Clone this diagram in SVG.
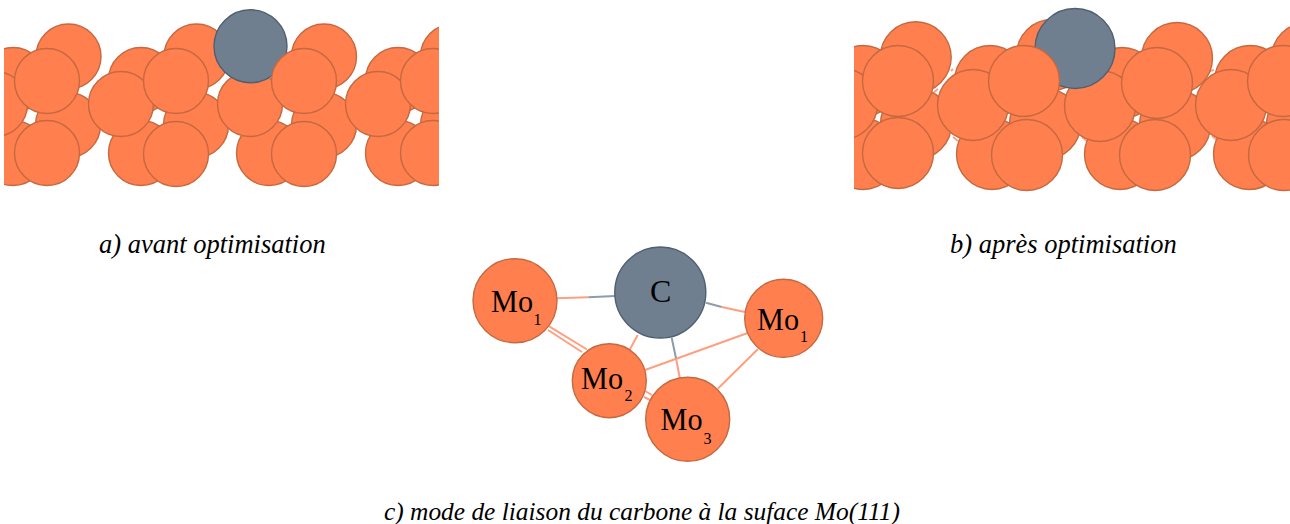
<svg xmlns="http://www.w3.org/2000/svg" width="1290" height="524" viewBox="0 0 1290 524">
<style>
.mo{fill:#ff7f4f;stroke:#c4693f;stroke-width:1.4}
.c{fill:#6f7f8f;stroke:#4f6070;stroke-width:1.4}
.bo{stroke:#ff9f80;stroke-width:2;fill:none}
.bc{stroke:#8d9cab;stroke-width:2;fill:none}
text{font-family:"Liberation Serif","Times New Roman",serif;fill:#000}
.cap{font-size:26.5px;font-style:italic}
.cap2{font-size:25.4px;font-style:italic}
.lab{font-size:32px}
.sub{font-size:16px}
</style>
<defs>
<clipPath id="cl"><rect x="4" y="0" width="435" height="200"/></clipPath>
<clipPath id="cr"><rect x="854" y="0" width="436" height="200"/></clipPath>
<filter id="soft" x="-2%" y="-2%" width="104%" height="104%"><feGaussianBlur stdDeviation="0.4"/></filter>
</defs>
<g id="panel-a" clip-path="url(#cl)">
<g filter="url(#soft)">
<g class="mo">
<circle cx="68.5" cy="56.5" r="32.5"/><circle cx="196.5" cy="56.5" r="32.5"/><circle cx="324" cy="56.5" r="32.5"/><circle cx="453" cy="56.5" r="32.5"/>
<circle cx="13" cy="80" r="32.5"/><circle cx="141" cy="80" r="32.5"/><circle cx="398" cy="80" r="32.5"/>
<circle cx="68" cy="125" r="32.5"/><circle cx="196" cy="125" r="32.5"/><circle cx="324" cy="125" r="32.5"/><circle cx="453" cy="125" r="32.5"/>
<circle cx="13" cy="153" r="32.5"/><circle cx="141" cy="153" r="32.5"/><circle cx="269" cy="153" r="32.5"/><circle cx="398" cy="153" r="32.5"/>
<circle cx="-5" cy="104" r="32.5"/><circle cx="121" cy="104" r="32.5"/><circle cx="250" cy="104" r="32.5"/><circle cx="378" cy="104" r="32.5"/>
</g>
<circle class="c" cx="250.5" cy="46.3" r="36.5"/>
<g class="mo">
<circle cx="47" cy="81" r="32.5"/><circle cx="176" cy="81" r="32.5"/><circle cx="304" cy="81" r="32.5"/><circle cx="433" cy="81" r="32.5"/>
<circle cx="47" cy="153" r="32.5"/><circle cx="176" cy="154" r="32.5"/><circle cx="304" cy="154" r="32.5"/><circle cx="433" cy="153" r="32.5"/>
</g>
</g>
</g>
<g id="panel-b" clip-path="url(#cr)">
<g filter="url(#soft)">
<g class="bo">
<path d="M951 71L953 69M933 93L938 89M953 137L958 141M1082 137L1087 141M1212 136L1217 140M1210 71L1214 70"/>
</g>
<g class="mo">
<circle cx="915.7" cy="57.3" r="35.5"/><circle cx="1052" cy="55" r="35.5"/><circle cx="1177" cy="58" r="35.5"/><circle cx="1307" cy="58" r="35.5"/>
<circle cx="863" cy="81" r="35.5"/><circle cx="990" cy="81" r="35.5"/><circle cx="1122" cy="83" r="35.5"/><circle cx="1250" cy="81" r="35.5"/>
<circle cx="916" cy="124" r="35.5"/><circle cx="1045" cy="124" r="35.5"/><circle cx="1175" cy="125" r="35.5"/><circle cx="1302" cy="125" r="35.5"/>
<circle cx="863" cy="154" r="35.5"/><circle cx="992" cy="154" r="35.5"/><circle cx="1120" cy="154" r="35.5"/><circle cx="1249" cy="154" r="35.5"/>
<circle cx="842" cy="104" r="35.5"/><circle cx="973" cy="105" r="35.5"/><circle cx="1100" cy="106" r="35.5"/><circle cx="1231" cy="105" r="35.5"/>
</g>
<circle class="c" cx="1075" cy="48.5" r="40"/>
<g class="mo">
<circle cx="898" cy="81" r="35.5"/><circle cx="1024" cy="81" r="35.5"/><circle cx="1157" cy="83" r="35.5"/><circle cx="1283" cy="81" r="35.5"/>
<circle cx="898" cy="153" r="35.5"/><circle cx="1027" cy="155" r="35.5"/><circle cx="1155" cy="155" r="35.5"/><circle cx="1284" cy="155" r="35.5"/>
</g>
</g>
</g>
<g id="connectors" filter="url(#soft)">
<path class="bo" d="M556 298.3L588.3 297.3M721.7 307L746 312.3M637.7 335L629 351M676 358.3L680 379M548 330L582 352M548 325.7L587 349.5M645 370L747 333.3M718 388.5L758 349M645 391L652 395M644 397L650 400"/>
<path class="bc" d="M588.3 297.3L615 296M706 302.7L721.7 307M671.7 337.7L676 358.3"/>
</g>
<g id="node-mo1-left"><circle class="mo" cx="515" cy="300.7" r="42" filter="url(#soft)"/><text class="lab" x="491" y="312" textLength="42" lengthAdjust="spacingAndGlyphs">Mo</text><text class="sub" x="533.5" y="325">1</text></g>
<g id="node-c"><circle class="c" cx="660.3" cy="292.5" r="45.5" filter="url(#soft)"/><text class="lab" x="650" y="302">C</text></g>
<g id="node-mo1-right"><circle class="mo" cx="783.7" cy="318.3" r="39" filter="url(#soft)"/><text class="lab" x="757" y="330" textLength="42" lengthAdjust="spacingAndGlyphs">Mo</text><text class="sub" x="800" y="342">1</text></g>
<g id="node-mo2"><circle class="mo" cx="609.3" cy="380.7" r="37" filter="url(#soft)"/><text class="lab" x="581" y="389" textLength="42" lengthAdjust="spacingAndGlyphs">Mo</text><text class="sub" x="624.5" y="401">2</text></g>
<g id="node-mo3"><circle class="mo" cx="687.7" cy="419.3" r="42" filter="url(#soft)"/><text class="lab" x="660.5" y="430" textLength="42" lengthAdjust="spacingAndGlyphs">Mo</text><text class="sub" x="703.5" y="444">3</text></g>
<g id="captions">
<text class="cap" x="99" y="253">a) avant optimisation</text>
<text class="cap" x="950" y="253">b) après optimisation</text>
<text class="cap2" x="384" y="520">c) mode de liaison du carbone à la suface Mo(111)</text>
</g>
</svg>
